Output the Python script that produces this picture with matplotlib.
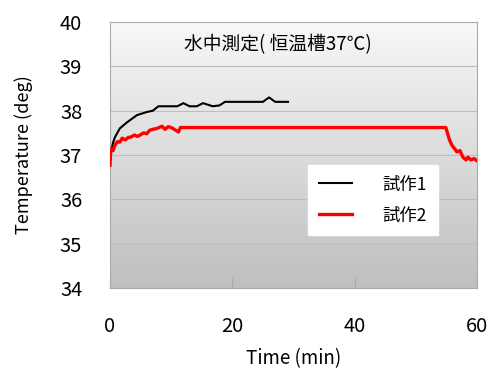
import matplotlib
matplotlib.use('agg')
import matplotlib.pyplot as plt
from matplotlib.colors import LinearSegmentedColormap
import numpy as np

plt.rcParams['font.family'] = ['Noto Sans CJK JP', 'DejaVu Sans']

# 試作1 (black)
t1 = [0, 0.2, 0.5, 0.8, 1.6, 2.8, 3.6, 4.4, 6.0, 7.0, 7.9, 11.0, 12.0, 13.0,
      14.2, 15.2, 16.8, 17.9, 18.8, 25.0, 26.0, 27.0, 29.1]
T1 = [36.9, 37.1, 37.28, 37.4, 37.6, 37.74, 37.82, 37.9, 37.97, 38.0, 38.1, 38.1,
      38.17, 38.1, 38.1, 38.17, 38.1, 38.12, 38.2, 38.2, 38.3, 38.2, 38.2]

# 試作2 (red)
t2 = [0, 0.1, 0.3, 0.5, 0.8, 1.2, 1.6, 2.0, 2.5, 3.0, 3.3, 4.0, 4.5, 4.9, 5.5,
      6.0, 6.5, 7.0, 7.7, 8.5, 9.0, 9.5, 10.0, 10.5, 11.2, 11.5, 11.8, 12.0,
      54.9, 55.5, 55.9, 56.4, 56.7, 57.2, 57.7, 58.2, 58.5, 59.0, 59.5, 60]
T2 = [36.77, 37.07, 37.15, 37.1, 37.22, 37.3, 37.29, 37.38, 37.34, 37.4, 37.4,
      37.45, 37.42, 37.45, 37.5, 37.48, 37.56, 37.58, 37.6, 37.65, 37.58, 37.64,
      37.62, 37.58, 37.52, 37.62, 37.62, 37.62, 37.62, 37.34, 37.22, 37.13,
      37.07, 37.1, 36.95, 36.89, 36.95, 36.89, 36.92, 36.87]

fig = plt.figure(figsize=(4.92, 3.74), dpi=100)
ax = fig.add_axes([0.2236, 0.23, 0.746, 0.711])

grad = LinearSegmentedColormap.from_list('g', ['#f8f8f8', '#bfbfbf'])
ax.imshow(np.linspace(0, 1, 256).reshape(-1, 1), cmap=grad, aspect='auto',
          extent=[0, 60, 34, 40], zorder=0)

for y in range(35, 40):
    ax.axhline(y, color='#bdbdbd', lw=0.8, zorder=1)

ax.plot(t1, T1, color='black', lw=1.5, label='試作1', zorder=3)
ax.plot(t2, T2, color='#ff0000', lw=2.4, label='試作2', zorder=3)

ax.set_xlim(0, 60)
ax.set_ylim(34, 40)
ax.set_xticks([0, 20, 40, 60])
ax.set_yticks([34, 35, 36, 37, 38, 39, 40])
ax.tick_params(axis='x', direction='in', length=7, color='#aaaaaa', pad=20, labelsize=14.5)
ax.tick_params(axis='y', length=0, pad=20, labelsize=14.5)
for s in ax.spines.values():
    s.set_color('#aaaaaa')
    s.set_linewidth(0.8)

ax.text(27.5, 39.48, '水中測定( 恒温槽37℃)', ha='center', va='center', fontsize=13.5)

ax.set_xlabel('Time (min)', fontsize=13.5, labelpad=8)
ax.set_ylabel('Temperature (deg)', fontsize=13, labelpad=19)

leg = ax.legend(loc='upper left', bbox_to_anchor=(0.54, 0.462), fontsize=12.5,
                frameon=True, fancybox=False, framealpha=1, edgecolor='white',
                handlelength=1.9, borderpad=0.6, labelspacing=0.75, handletextpad=1.8,
                borderaxespad=0)
leg.get_frame().set_facecolor('white')

fig.savefig('out.png', dpi=100)
